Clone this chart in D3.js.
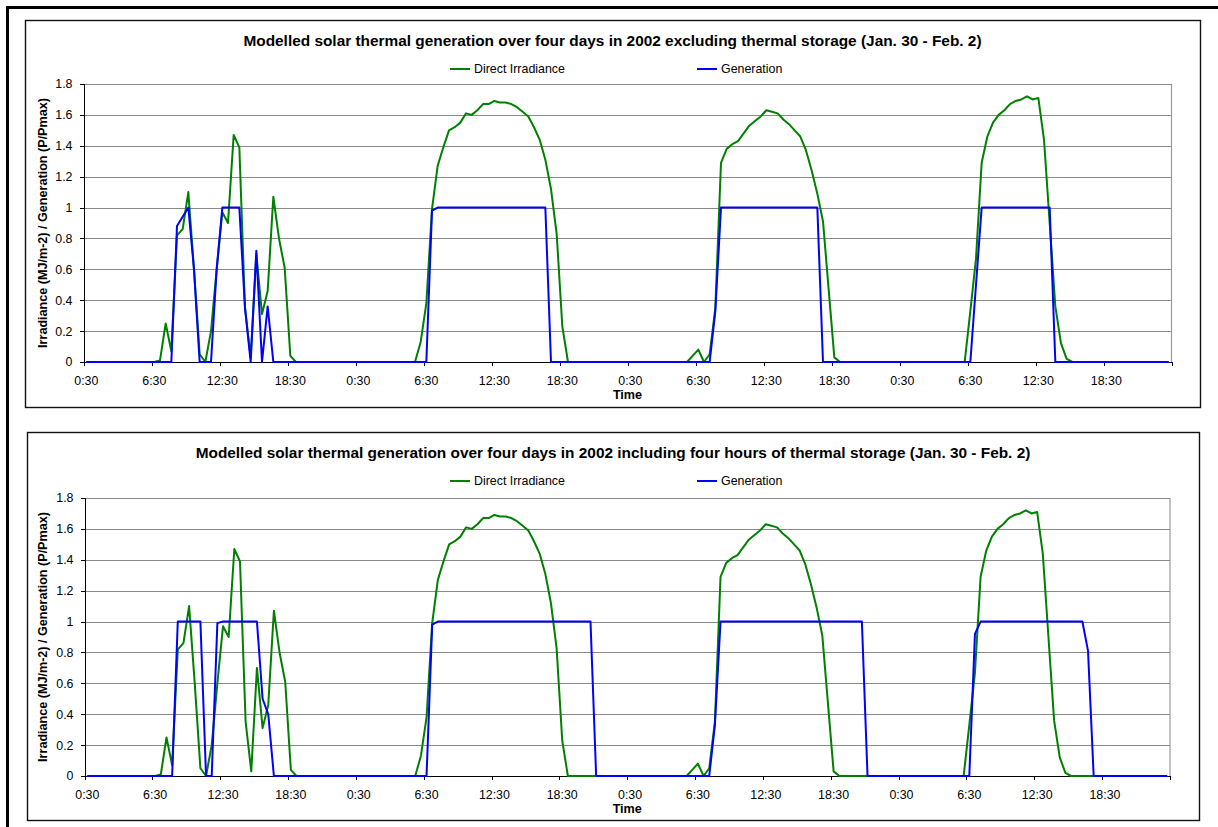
<!DOCTYPE html>
<html>
<head>
<meta charset="utf-8">
<script src="https://cdn.jsdelivr.net/npm/d3@7"></script>
<style>
  body { margin: 0; background: #fff; }
  svg { display: block; }
  text { font-family: Arial, "Liberation Sans", sans-serif; fill: #000; }
  .tick text { font-size: 12.4px; }
  .title { font-size: 15.4px; font-weight: bold; }
  .axis-title { font-size: 12.6px; font-weight: bold; }
  .legend text { font-size: 12.4px; }
</style>
</head>
<body>
<svg id="chart" width="1218" height="827"></svg>
<script>
// Half-hourly samples, 30 Jan 0:30 through 2 Feb 24:00 (48 per day)
const xTickLabels = ["0:30", "6:30", "12:30", "18:30",
                     "0:30", "6:30", "12:30", "18:30",
                     "0:30", "6:30", "12:30", "18:30",
                     "0:30", "6:30", "12:30", "18:30"];
const yTicks = [0, 0.2, 0.4, 0.6, 0.8, 1, 1.2, 1.4, 1.6, 1.8];
const seriesNames = ["Direct Irradiance", "Generation"];
const panelTitles = [
  "Modelled solar thermal generation over four days in 2002 excluding thermal storage (Jan. 30 - Feb. 2)",
  "Modelled solar thermal generation over four days in 2002 including four hours of thermal storage (Jan. 30 - Feb. 2)"
];
const yAxisTitle = "Irradiance (MJ/m-2) / Generation (P/Pmax)";
const xAxisTitle = "Time";

// Direct irradiance (MJ/m-2)
const irradiance = [
  // Jan 30
  0, 0, 0, 0, 0, 0, 0, 0, 0, 0, 0, 0, 0,
  0.01, 0.25, 0.07, 0.82, 0.86, 1.10, 0.60, 0.05, 0.00, 0.20, 0.60, 0.97,
  0.90, 1.47, 1.39, 0.35, 0.03, 0.70, 0.31, 0.46, 1.07, 0.80, 0.61, 0.04,
  0, 0, 0, 0, 0, 0, 0, 0, 0, 0, 0,
  // Jan 31
  0, 0, 0, 0, 0, 0, 0, 0, 0, 0, 0,
  0.13, 0.38, 0.99, 1.27, 1.39, 1.50, 1.52, 1.55, 1.61, 1.60, 1.63, 1.67, 1.67,
  1.69, 1.68, 1.68, 1.67, 1.65, 1.62, 1.59, 1.52, 1.44, 1.31, 1.12, 0.83, 0.23,
  0, 0, 0, 0, 0, 0, 0, 0, 0, 0, 0,
  // Feb 1
  0, 0, 0, 0, 0, 0, 0, 0, 0, 0, 0,
  0.04, 0.08, 0.00, 0.05, 0.35, 1.29, 1.38, 1.41, 1.43, 1.48, 1.53, 1.56, 1.59,
  1.63, 1.62, 1.61, 1.57, 1.54, 1.50, 1.46, 1.37, 1.24, 1.09, 0.91, 0.47, 0.03,
  0, 0, 0, 0, 0, 0, 0, 0, 0, 0, 0,
  // Feb 2
  0, 0, 0, 0, 0, 0, 0, 0, 0, 0, 0, 0,
  0.33, 0.67, 1.29, 1.46, 1.55, 1.60, 1.63, 1.67, 1.69,
  1.70, 1.72, 1.70, 1.71, 1.44, 0.90, 0.36, 0.12, 0.02,
  0, 0, 0, 0, 0, 0, 0, 0, 0, 0, 0, 0, 0, 0, 0, 0, 0, 0
];

// Generation (P/Pmax) without storage
const generationNoStorage = [
  // Jan 30
  0, 0, 0, 0, 0, 0, 0, 0, 0, 0, 0, 0, 0, 0, 0, 0,
  0.88, 0.94, 1.00, 0.60, 0, 0, 0, 0.60, 1, 1, 1, 1, 0.35, 0, 0.72, 0, 0.36,
  0, 0, 0, 0, 0, 0, 0, 0, 0, 0, 0, 0, 0, 0, 0,
  // Jan 31
  0, 0, 0, 0, 0, 0, 0, 0, 0, 0, 0, 0, 0,
  0.98, 1, 1, 1, 1, 1, 1, 1, 1, 1, 1, 1, 1, 1, 1, 1, 1, 1, 1, 1, 1,
  0, 0, 0, 0, 0, 0, 0, 0, 0, 0, 0, 0, 0, 0,
  // Feb 1
  0, 0, 0, 0, 0, 0, 0, 0, 0, 0, 0, 0, 0, 0, 0,
  0.33, 1, 1, 1, 1, 1, 1, 1, 1, 1, 1, 1, 1, 1, 1, 1, 1, 1, 1,
  0, 0, 0, 0, 0, 0, 0, 0, 0, 0, 0, 0, 0, 0,
  // Feb 2
  0, 0, 0, 0, 0, 0, 0, 0, 0, 0, 0, 0, 0,
  0.50, 1, 1, 1, 1, 1, 1, 1, 1, 1, 1, 1, 1, 1,
  0, 0, 0, 0, 0, 0, 0, 0, 0, 0, 0, 0, 0, 0, 0, 0, 0, 0, 0, 0, 0
];

// Generation (P/Pmax) with four hours of thermal storage
const generationWithStorage = [
  // Jan 30
  0, 0, 0, 0, 0, 0, 0, 0, 0, 0, 0, 0, 0, 0, 0, 0,
  1, 1, 1, 1, 1, 0, 0, 0.99, 1, 1, 1, 1, 1, 1, 1, 0.50, 0.40,
  0, 0, 0, 0, 0, 0, 0, 0, 0, 0, 0, 0, 0, 0, 0,
  // Jan 31
  0, 0, 0, 0, 0, 0, 0, 0, 0, 0, 0, 0, 0,
  0.98, 1, 1, 1, 1, 1, 1, 1, 1, 1, 1, 1, 1, 1, 1, 1, 1, 1, 1, 1, 1,
  1, 1, 1, 1, 1, 1, 1, 1,
  0, 0, 0, 0, 0, 0,
  // Feb 1
  0, 0, 0, 0, 0, 0, 0, 0, 0, 0, 0, 0, 0, 0, 0,
  0.33, 1, 1, 1, 1, 1, 1, 1, 1, 1, 1, 1, 1, 1, 1, 1, 1, 1, 1,
  1, 1, 1, 1, 1, 1, 1, 1,
  0, 0, 0, 0, 0, 0,
  // Feb 2
  0, 0, 0, 0, 0, 0, 0, 0, 0, 0, 0, 0, 0,
  0.92, 1, 1, 1, 1, 1, 1, 1, 1, 1, 1, 1, 1, 1, 1, 1, 1, 1, 1, 1, 0.81,
  0, 0, 0, 0, 0, 0, 0, 0, 0, 0, 0, 0, 0, 0
];

const colors = { irradiance: "#008000", generation: "#0000ff" };

const panels = [
  { title: panelTitles[0], gen: generationNoStorage,
    box: { x0: 25, y0: 20, x1: 1200, y1: 407 },
    plot: { left: 83.5, right: 1171.5, top: 84, bottom: 362 },
    titleY: 46, legendY: 69 },
  { title: panelTitles[1], gen: generationWithStorage,
    box: { x0: 27, y0: 432, x1: 1199, y1: 820 },
    plot: { left: 84.5, right: 1170, top: 498, bottom: 776 },
    titleY: 458, legendY: 481 }
];

const svg = d3.select("#chart");
svg.append("rect").attr("width", 1218).attr("height", 827).attr("fill", "#fff");

// Outer frame (top and left edges visible)
svg.append("path")
  .attr("d", "M7.5,830V7.5H1222")
  .attr("fill", "none").attr("stroke", "#000").attr("stroke-width", 3);

const n = irradiance.length;

panels.forEach(p => {
  const g = svg.append("g");
  const { left, right, top, bottom } = p.plot;

  // Chart box
  g.append("rect")
    .attr("x", p.box.x0 + 0.5).attr("y", p.box.y0 + 0.5)
    .attr("width", p.box.x1 - p.box.x0).attr("height", p.box.y1 - p.box.y0)
    .attr("fill", "#fff").attr("stroke", "#111").attr("stroke-width", 1.4);

  const xBand = d3.scaleBand().domain(d3.range(n)).range([left, right]).paddingInner(0).paddingOuter(0);
  const xLin = d3.scaleLinear().domain([0, n]).range([left, right]);
  const y = d3.scaleLinear().domain([0, 1.8]).range([bottom, top]);

  // Horizontal gridlines
  const grid = g.append("g").attr("transform", `translate(${left},0)`)
    .call(d3.axisLeft(y).tickValues(yTicks.slice(1)).tickSize(-(right - left)).tickFormat(""));
  grid.select(".domain").remove();
  grid.selectAll(".tick line").attr("stroke", "#8a8a8a").attr("shape-rendering", "crispEdges");

  // Plot area right border
  g.append("line")
    .attr("x1", right).attr("x2", right).attr("y1", y(1.8)).attr("y2", bottom)
    .attr("stroke", "#9a9a9a").attr("stroke-width", 1.2);

  // Y axis
  const yAxis = g.append("g").attr("transform", `translate(${left},0)`)
    .call(d3.axisLeft(y).tickValues(yTicks).tickSize(4).tickPadding(7).tickFormat(d => String(d)));
  yAxis.attr("font-size", null).attr("font-family", null);
  yAxis.selectAll("path, line").attr("stroke", "#000").attr("shape-rendering", "crispEdges");

  // X axis: tick marks on category boundaries, labels centred on categories
  const xTicks = g.append("g").attr("transform", `translate(0,${bottom})`)
    .call(d3.axisBottom(xLin).tickValues(d3.range(0, n + 1, 12)).tickSize(4).tickFormat("").tickSizeOuter(0));
  xTicks.selectAll("path, line").attr("stroke", "#000").attr("shape-rendering", "crispEdges");

  const labelIdx = xTickLabels.map((_, k) => k * 12);
  const xLabels = g.append("g").attr("transform", `translate(0,${bottom})`)
    .call(d3.axisBottom(xBand).tickValues(labelIdx).tickSize(0).tickPadding(14)
      .tickFormat(d => xTickLabels[d / 12]));
  xLabels.attr("font-size", null).attr("font-family", null);
  xLabels.select(".domain").remove();

  // Axis titles
  g.append("text").attr("class", "axis-title")
    .attr("x", (left + right) / 2).attr("y", bottom + 37)
    .attr("text-anchor", "middle").text(xAxisTitle);
  g.append("text").attr("class", "axis-title")
    .attr("transform", `translate(46.5,${(top + bottom) / 2}) rotate(-90)`)
    .attr("text-anchor", "middle").text(yAxisTitle);

  // Title
  g.append("text").attr("class", "title")
    .attr("x", (p.box.x0 + p.box.x1) / 2).attr("y", p.titleY)
    .attr("text-anchor", "middle").text(p.title);

  // Legend
  const legend = g.append("g").attr("class", "legend");
  const legendItems = [
    { name: seriesNames[0], color: colors.irradiance, x: 450 },
    { name: seriesNames[1], color: colors.generation, x: 697 }
  ];
  legendItems.forEach(it => {
    legend.append("line")
      .attr("x1", it.x).attr("x2", it.x + 20)
      .attr("y1", p.legendY).attr("y2", p.legendY)
      .attr("stroke", it.color).attr("stroke-width", 2);
    legend.append("text")
      .attr("x", it.x + 24).attr("y", p.legendY).attr("dy", "0.35em")
      .text(it.name);
  });

  // Series
  const line = d3.line()
    .x((d, i) => xBand(i) + xBand.bandwidth() / 2)
    .y(d => y(d));

  g.append("path").datum(irradiance)
    .attr("d", line).attr("fill", "none")
    .attr("stroke", colors.irradiance).attr("stroke-width", 2)
    .attr("stroke-linejoin", "round");

  g.append("path").datum(p.gen)
    .attr("d", line).attr("fill", "none")
    .attr("stroke", colors.generation).attr("stroke-width", 2)
    .attr("stroke-linejoin", "round");
});
</script>
</body>
</html>
